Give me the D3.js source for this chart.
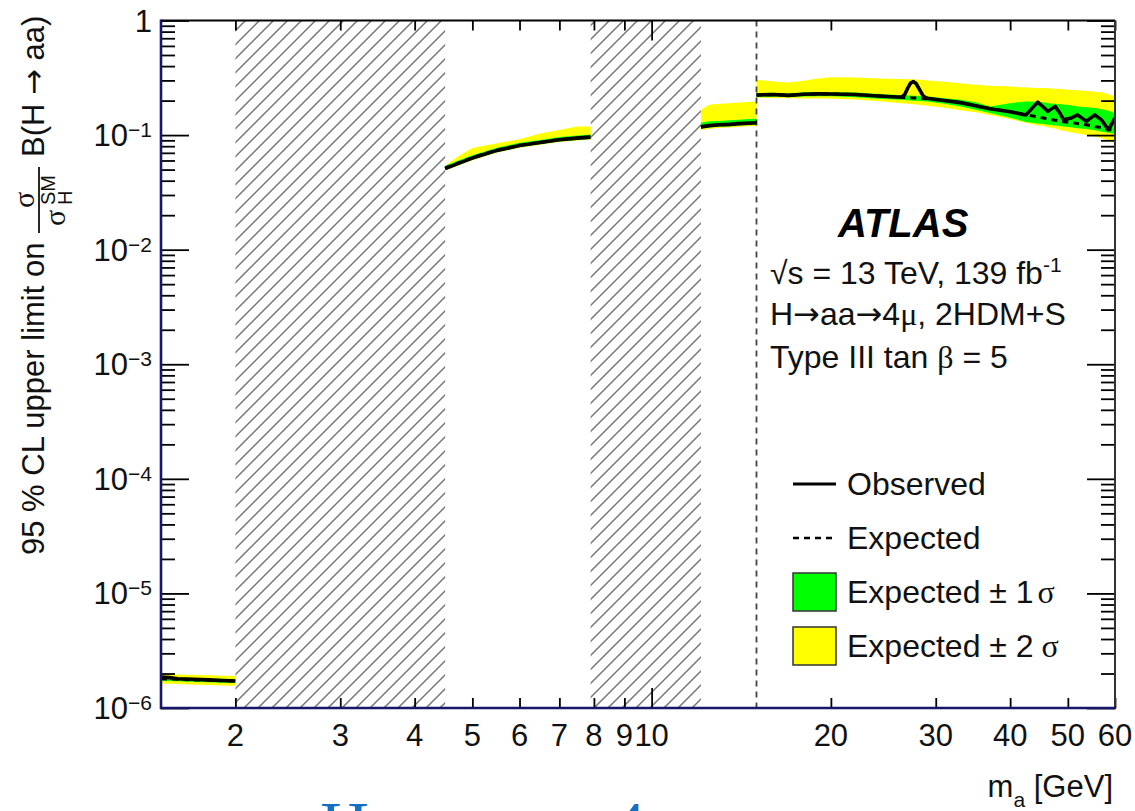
<!DOCTYPE html>
<html>
<head>
<meta charset="utf-8">
<script src="https://cdn.jsdelivr.net/npm/d3@7"></script>
<style>
  body { margin: 0; background: #fff; }
  svg { display: block; font-family: "Liberation Sans", Arial, Helvetica, sans-serif; }
</style>
</head>
<body>
<svg id="chart" width="1135" height="811"></svg>
<script>
// m_a scan points in GeV; null entries separate the disjoint mass windows
const mass = [
  1.5, 1.55, 1.6, 1.7, 1.8, 1.9, 2.0,
  null,
  4.5, 4.75, 5, 5.5, 6, 6.5, 7, 7.5, 7.9,
  null,
  12.1, 12.5, 13, 13.5, 14, 14.5, 15,
  null,
  15, 16, 17, 18, 19, 20, 22, 24, 26.3, 26.6, 26.9, 27.2, 27.5, 27.8, 28.2, 28.6, 29, 31, 33, 35, 37, 40,
  42.5, 44.5, 45.5, 46.3, 47.6, 48.5, 49.2, 50.5, 51.9, 53.7, 55.5, 57, 58.5, 60
];
const observed = [
  1.86e-6, 1.84e-6, 1.80e-6, 1.78e-6, 1.76e-6, 1.74e-6, 1.72e-6,
  null,
  0.051, 0.057, 0.063, 0.0735, 0.081, 0.086, 0.091, 0.094, 0.096,
  null,
  0.118, 0.121, 0.123, 0.124, 0.126, 0.127, 0.128,
  null,
  0.224, 0.226, 0.222, 0.227, 0.229, 0.228, 0.226, 0.219, 0.214, 0.225, 0.255, 0.283, 0.293, 0.282, 0.248, 0.218, 0.21, 0.2, 0.192, 0.18, 0.17, 0.16,
  0.15, 0.194, 0.175, 0.161, 0.178, 0.155, 0.136, 0.14, 0.15, 0.132, 0.15, 0.135, 0.111, 0.141
];
const expected = [
  1.80e-6, 1.79e-6, 1.78e-6, 1.76e-6, 1.75e-6, 1.73e-6, 1.72e-6,
  null,
  0.0515, 0.0575, 0.0635, 0.074, 0.0815, 0.0865, 0.0915, 0.0945, 0.0965,
  null,
  0.118, 0.121, 0.123, 0.124, 0.126, 0.127, 0.128,
  null,
  0.224, 0.226, 0.222, 0.227, 0.229, 0.228, 0.226, 0.219, 0.214, 0.213, 0.212, 0.212, 0.211, 0.211, 0.21, 0.209, 0.208, 0.2, 0.192, 0.18, 0.17, 0.16,
  0.15, 0.144, 0.141, 0.138, 0.135, 0.133, 0.131, 0.129, 0.126, 0.123, 0.119, 0.116, 0.112, 0.11
];
const sigma1Lo = [
  1.73e-6, 1.72e-6, 1.71e-6, 1.69e-6, 1.68e-6, 1.66e-6, 1.65e-6,
  null,
  0.0494, 0.0552, 0.061, 0.071, 0.0782, 0.083, 0.0878, 0.0907, 0.0926,
  null,
  0.1133, 0.1162, 0.1181, 0.119, 0.121, 0.1219, 0.1229,
  null,
  0.215, 0.216, 0.214, 0.217, 0.218, 0.218, 0.214, 0.208, 0.203, 0.202, 0.201, 0.2, 0.199, 0.199, 0.198, 0.197, 0.196, 0.188, 0.178, 0.166, 0.156, 0.142,
  0.13, 0.126, 0.125, 0.123, 0.121, 0.12, 0.119, 0.117, 0.115, 0.113, 0.11, 0.107, 0.105, 0.102
];
const sigma1Hi = [
  1.87e-6, 1.86e-6, 1.85e-6, 1.83e-6, 1.82e-6, 1.80e-6, 1.79e-6,
  null,
  0.0541, 0.0604, 0.0667, 0.0777, 0.0856, 0.0908, 0.0961, 0.0992, 0.1013,
  null,
  0.128, 0.132, 0.133, 0.135, 0.136, 0.138, 0.139,
  null,
  0.232, 0.234, 0.231, 0.236, 0.238, 0.237, 0.235, 0.228, 0.223, 0.222, 0.221, 0.221, 0.22, 0.22, 0.219, 0.218, 0.217, 0.21, 0.203, 0.193, 0.178, 0.19,
  0.196, 0.195, 0.193, 0.19, 0.188, 0.186, 0.185, 0.182, 0.178, 0.175, 0.172, 0.168, 0.163, 0.155
];
const sigma2Lo = [
  1.64e-6, 1.63e-6, 1.62e-6, 1.60e-6, 1.59e-6, 1.57e-6, 1.56e-6,
  null,
  0.049, 0.0546, 0.0603, 0.0703, 0.0774, 0.0822, 0.0869, 0.0898, 0.0917,
  null,
  0.111, 0.1137, 0.1156, 0.1166, 0.1184, 0.1194, 0.1203,
  null,
  0.212, 0.211, 0.21, 0.209, 0.209, 0.208, 0.204, 0.197, 0.19, 0.189, 0.188, 0.187, 0.186, 0.185, 0.183, 0.182, 0.18, 0.173, 0.165, 0.158, 0.15, 0.138,
  0.128, 0.122, 0.12, 0.117, 0.114, 0.111, 0.109, 0.106, 0.103, 0.1, 0.097, 0.094, 0.09, 0.085
];
const sigma2Hi = [
  1.98e-6, 1.97e-6, 1.96e-6, 1.94e-6, 1.93e-6, 1.91e-6, 1.90e-6,
  null,
  0.054, 0.066, 0.077, 0.085, 0.092, 0.103, 0.111, 0.119, 0.119,
  null,
  0.166, 0.184, 0.188, 0.19, 0.192, 0.194, 0.196,
  null,
  0.304, 0.293, 0.288, 0.298, 0.312, 0.32, 0.318, 0.312, 0.308, 0.308, 0.307, 0.307, 0.306, 0.305, 0.304, 0.302, 0.3, 0.292, 0.283, 0.275, 0.27, 0.265,
  0.26, 0.258, 0.257, 0.256, 0.254, 0.252, 0.251, 0.248, 0.246, 0.243, 0.239, 0.235, 0.228, 0.214
];

// mass ranges vetoed around quarkonium resonances
const vetoedRanges = [[2, 4.5], [7.9, 12.1]];
// boundary between the low-mass and high-mass analyses
const boundaryMass = 15;

const xTickLabels = [2, 3, 4, 5, 6, 7, 8, 9, 10, 20, 30, 40, 50, 60];
const yDecades = [0, -1, -2, -3, -4, -5, -6];

const legendLabels = ["Observed", "Expected", "Expected \u00B1 1", "Expected \u00B1 2"];

// ---------------------------------------------------------------------------
const svg = d3.select("#chart");
const L = 161, R = 1115, T = 20.5, B = 708;
const ARROW_FONT = "DejaVu Sans, sans-serif";
const GREEK_FONT = "Liberation Serif, serif";

const x = d3.scaleLog().domain([1.5, 60]).range([L, R]);
const y = d3.scaleLog().domain([1e-6, 1]).range([B, T]);

const idx = d3.range(mass.length);
const defined = i => mass[i] != null;

// hatch pattern for vetoed windows
const defs = svg.append("defs");
const H = 14;
const pat = defs.append("pattern")
  .attr("id", "hatch").attr("patternUnits", "userSpaceOnUse")
  .attr("width", H).attr("height", H);
pat.append("path")
  .attr("d", `M-2,2 L2,-2 M0,${H} L${H},0 M${H - 2},${H + 2} L${H + 2},${H - 2}`)
  .attr("stroke", "#777").attr("stroke-width", 1.5);
defs.append("clipPath").attr("id", "plotclip")
  .append("rect").attr("x", L).attr("y", T).attr("width", R - L).attr("height", B - T);

const plot = svg.append("g").attr("clip-path", "url(#plotclip)");

plot.selectAll("rect.veto").data(vetoedRanges).join("rect")
  .attr("class", "veto")
  .attr("x", d => x(d[0])).attr("width", d => x(d[1]) - x(d[0]))
  .attr("y", T).attr("height", B - T)
  .attr("fill", "url(#hatch)");

// expected bands
const band = (lo, hi) => d3.area().defined(defined)
  .x(i => x(mass[i])).y0(i => y(lo[i])).y1(i => y(hi[i]));

plot.append("path").attr("d", band(sigma2Lo, sigma2Hi)(idx)).attr("fill", "#ffff00");
plot.append("path").attr("d", band(sigma1Lo, sigma1Hi)(idx)).attr("fill", "#00ff00");

// boundary line
plot.append("line")
  .attr("x1", x(boundaryMass)).attr("x2", x(boundaryMass))
  .attr("y1", T).attr("y2", B)
  .attr("stroke", "#444").attr("stroke-width", 1.8).attr("stroke-dasharray", "6,5");

const lineOf = arr => d3.line().defined(defined).x(i => x(mass[i])).y(i => y(arr[i]));

plot.append("path").attr("d", lineOf(expected)(idx))
  .attr("fill", "none").attr("stroke", "#000").attr("stroke-width", 3)
  .attr("stroke-dasharray", "6,5");
plot.append("path").attr("d", lineOf(observed)(idx))
  .attr("fill", "none").attr("stroke", "#000").attr("stroke-width", 3.6)
  .attr("stroke-linejoin", "round");

// ---------------------------------------------------------------------------
// axes: ticks on all four sides, pointing into the frame
const yMajor = yDecades.map(k => Math.pow(10, k));
const yMinor = [];
for (let k = -6; k < 0; k++) for (let j = 2; j <= 9; j++) yMinor.push(j * Math.pow(10, k));
const xMajor = [10];
const xMinor = xTickLabels.filter(v => v !== 10);

function tickAxis(axisFn, scale, values, size, transform) {
  const g = svg.append("g").attr("transform", transform)
    .call(axisFn(scale).tickValues(values).tickSize(size).tickFormat(""));
  g.select(".domain").remove();
  g.selectAll(".tick line").attr("stroke", "#000").attr("stroke-width", 1.8);
  return g;
}
tickAxis(d3.axisLeft, y, yMajor, -28, `translate(${L},0)`);
tickAxis(d3.axisLeft, y, yMinor, -14, `translate(${L},0)`);
tickAxis(d3.axisRight, y, yMajor, -28, `translate(${R},0)`);
tickAxis(d3.axisRight, y, yMinor, -14, `translate(${R},0)`);
tickAxis(d3.axisBottom, x, xMajor, -20, `translate(0,${B})`);
tickAxis(d3.axisBottom, x, xMinor, -10, `translate(0,${B})`);
tickAxis(d3.axisTop, x, xMajor, -20, `translate(0,${T})`);
tickAxis(d3.axisTop, x, xMinor, -10, `translate(0,${T})`);

// frame
svg.append("line").attr("x1", L).attr("x2", R).attr("y1", T).attr("y2", T)
  .attr("stroke", "#000").attr("stroke-width", 2);
svg.append("line").attr("x1", R).attr("x2", R).attr("y1", T).attr("y2", B)
  .attr("stroke", "#333").attr("stroke-width", 2);
svg.append("line").attr("x1", L).attr("x2", L).attr("y1", T - 1).attr("y2", B + 1)
  .attr("stroke", "#16166a").attr("stroke-width", 2.6);
svg.append("line").attr("x1", L - 1).attr("x2", R + 1).attr("y1", B).attr("y2", B)
  .attr("stroke", "#16166a").attr("stroke-width", 2.6);

// tick labels
svg.append("g").selectAll("text").data(xTickLabels).join("text")
  .attr("x", d => x(d)).attr("y", 746)
  .attr("text-anchor", "middle").attr("font-size", 31).attr("fill", "#111")
  .text(d => d);

const yl = svg.append("g").selectAll("text").data(yDecades).join("text")
  .attr("x", 152).attr("y", d => y(Math.pow(10, d)) + 11)
  .attr("text-anchor", "end").attr("font-size", 31).attr("fill", "#111");
yl.each(function (k) {
  const t = d3.select(this);
  if (k === 0) { t.text("1"); return; }
  t.append("tspan").text("10");
  t.append("tspan").attr("font-size", 21).attr("dy", -9).text("\u2212" + (-k));
});

// x-axis title
const xt = svg.append("text").attr("x", 1113).attr("y", 797)
  .attr("text-anchor", "end").attr("font-size", 31).attr("fill", "#111");
xt.append("tspan").text("m");
xt.append("tspan").attr("font-size", 21).attr("dy", 10).text("a");
xt.append("tspan").attr("dy", -10).text(" [GeV]");

// y-axis title (rotated)
const yt = svg.append("g").attr("transform", "translate(44,555) rotate(-90)")
  .attr("fill", "#111");
yt.append("text").attr("x", 0).attr("y", 0).attr("font-size", 31)
  .text("95 % CL upper limit on");
yt.append("line").attr("x1", 322).attr("x2", 388).attr("y1", -5).attr("y2", -5)
  .attr("stroke", "#111").attr("stroke-width", 1.8);
yt.append("text").attr("x", 355).attr("y", -10).attr("text-anchor", "middle")
  .attr("font-size", 30).attr("font-family", GREEK_FONT).text("\u03C3");
yt.append("text").attr("x", 337).attr("y", 21).attr("text-anchor", "middle")
  .attr("font-size", 30).attr("font-family", GREEK_FONT).text("\u03C3");
yt.append("text").attr("x", 350).attr("y", 11).attr("font-size", 20).text("SM");
yt.append("text").attr("x", 350).attr("y", 28).attr("font-size", 20).text("H");
const ytB = yt.append("text").attr("x", 398).attr("y", 0).attr("font-size", 31);
ytB.append("tspan").text("B(H ");
ytB.append("tspan").attr("font-family", ARROW_FONT).text("\u2192");
ytB.append("tspan").text(" aa)");

// ATLAS label block
svg.append("text").attr("x", 838).attr("y", 237)
  .attr("font-size", 40).attr("font-weight", "bold").attr("font-style", "italic")
  .attr("fill", "#000").text("ATLAS");
const info1 = svg.append("text").attr("x", 770).attr("y", 284).attr("font-size", 32).attr("fill", "#111");
info1.append("tspan").text("\u221As = 13 TeV, 139 fb");
info1.append("tspan").attr("font-size", 21).attr("dy", -12).text("-1");
const info2 = svg.append("text").attr("x", 770).attr("y", 325).attr("font-size", 32).attr("fill", "#111");
info2.append("tspan").text("H");
info2.append("tspan").attr("font-family", ARROW_FONT).text("\u2192");
info2.append("tspan").text("aa");
info2.append("tspan").attr("font-family", ARROW_FONT).text("\u2192");
info2.append("tspan").text("4");
info2.append("tspan").attr("font-family", GREEK_FONT).text("\u03BC");
info2.append("tspan").text(", 2HDM+S");
const info3 = svg.append("text").attr("x", 770).attr("y", 368).attr("font-size", 32).attr("fill", "#111");
info3.append("tspan").text("Type III tan ");
info3.append("tspan").attr("font-family", GREEK_FONT).text("\u03B2");
info3.append("tspan").text(" = 5");

// legend
const legY = [484, 538, 592, 646];
const lg = svg.append("g");
lg.append("line").attr("x1", 793).attr("x2", 836).attr("y1", legY[0]).attr("y2", legY[0])
  .attr("stroke", "#000").attr("stroke-width", 3);
lg.append("line").attr("x1", 793).attr("x2", 836).attr("y1", legY[1]).attr("y2", legY[1])
  .attr("stroke", "#000").attr("stroke-width", 2.4).attr("stroke-dasharray", "6,5");
lg.append("rect").attr("x", 793).attr("y", legY[2] - 19).attr("width", 43).attr("height", 38)
  .attr("fill", "#00ff00").attr("stroke", "#333").attr("stroke-width", 1.5);
lg.append("rect").attr("x", 793).attr("y", legY[3] - 19).attr("width", 43).attr("height", 38)
  .attr("fill", "#ffff00").attr("stroke", "#333").attr("stroke-width", 1.5);
legendLabels.forEach((lab, i) => {
  const t = lg.append("text").attr("x", 847).attr("y", legY[i] + 11)
    .attr("font-size", 32).attr("fill", "#111");
  t.append("tspan").text(lab);
  if (i >= 2) t.append("tspan").attr("font-family", GREEK_FONT)
    .attr("dx", i === 2 ? 4 : 8).text("\u03C3");
});

// next heading, cut by the bottom edge
const head = svg.append("text").attr("x", 320).attr("y", 848)
  .attr("font-family", "Liberation Serif, serif").attr("font-size", 68)
  .attr("fill", "#1570c4");
head.append("tspan").text("H ");
head.append("tspan").attr("font-family", ARROW_FONT).text("\u2192");
head.append("tspan").text(" aa ");
head.append("tspan").attr("font-family", ARROW_FONT).text("\u2192");
head.append("tspan").text(" 4\u03BC");
</script>
</body>
</html>
